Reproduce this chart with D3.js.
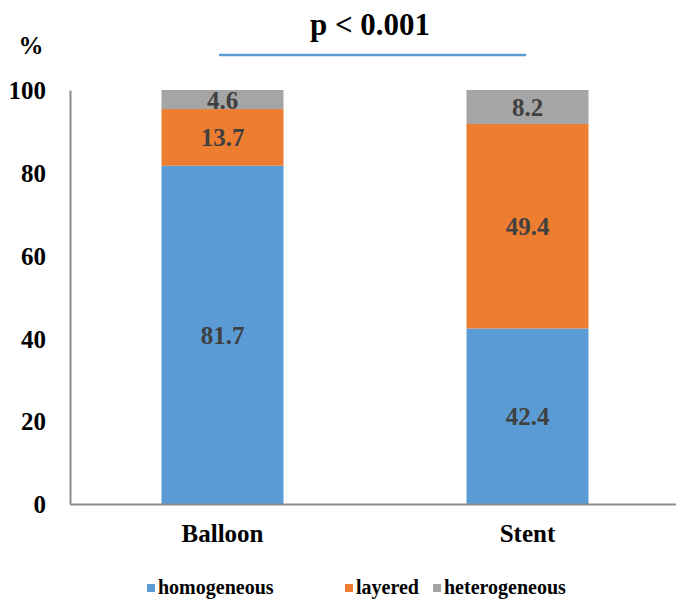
<!DOCTYPE html>
<html><head><meta charset="utf-8">
<script src="https://cdn.jsdelivr.net/npm/d3@7"></script>
<style>
body{margin:0;background:#fff}
svg{display:block}
svg text{font-family:"Liberation Serif",serif !important;font-weight:bold !important}
</style>
</head><body>
<script>
const categories = ["Balloon", "Stent"];
const seriesNames = ["homogeneous", "layered", "heterogeneous"];
const homogeneous = [81.7, 42.4];
const layered = [13.7, 49.4];
const heterogeneous = [4.6, 8.2];
const yTicks = [0, 20, 40, 60, 80, 100];
const colors = ["#5b9bd5", "#ed7d31", "#a5a5a5"];
const title = "p < 0.001";
const FONT = "Liberation Serif";

const W = 676, H = 599;
const svg = d3.select("body").append("svg").attr("width", W).attr("height", H)
  .attr("font-family", FONT).attr("font-weight", "bold");
const x = d3.scaleBand().domain(categories).range([70, 680]).paddingInner(0.6).paddingOuter(0.3);
const y = d3.scaleLinear().domain([0, 100]).range([504, 90]);

const rows = categories.map((c, i) => ({cat: c, homogeneous: homogeneous[i], layered: layered[i], heterogeneous: heterogeneous[i]}));
const stack = d3.stack().keys(seriesNames)(rows);

stack.forEach((s, si) => {
  svg.append("g").selectAll("rect").data(s).join("rect")
    .attr("x", d => x(d.data.cat)).attr("width", x.bandwidth())
    .attr("y", d => y(d[1])).attr("height", d => y(d[0]) - y(d[1]))
    .attr("fill", colors[si]);
  svg.append("g").selectAll("text").data(s).join("text")
    .attr("x", d => x(d.data.cat) + x.bandwidth() / 2)
    .attr("y", d => (y(d[0]) + y(d[1])) / 2 + 9)
    .attr("text-anchor", "middle").attr("fill", "#404040")
    .text(d => (d[1] - d[0]).toFixed(1));
});

const yAxis = svg.append("g").attr("transform", "translate(70,0)")
  .call(d3.axisLeft(y).tickValues(yTicks).tickSize(0).tickPadding(24));
yAxis.attr("font-family", FONT).attr("font-size", null);
yAxis.select(".domain").attr("stroke", "#8c8c8c").attr("stroke-width", 2);
yAxis.selectAll("text").attr("fill", "#000").attr("dy", "0.35em");

const xAxis = svg.append("g").attr("transform", "translate(0,504)")
  .call(d3.axisBottom(x).tickSize(0).tickPadding(20));
xAxis.attr("font-family", FONT).attr("font-size", null);
xAxis.select(".domain").attr("stroke", "#8c8c8c").attr("stroke-width", 2);
xAxis.selectAll("text").attr("fill", "#000");

svg.append("text").attr("x", 31).attr("y", 54).attr("text-anchor", "middle").text("%");
svg.append("text").attr("class", "title").attr("x", 370).attr("y", 35).attr("text-anchor", "middle").attr("fill", "#000").text(title);
svg.append("line").attr("x1", 219).attr("x2", 526).attr("y1", 55).attr("y2", 55).attr("stroke", "#5b9bd5").attr("stroke-width", 2.5);

const legX = [147, 345, 433];
const leg = svg.append("g").attr("class", "legend").selectAll("g").data(seriesNames).join("g")
  .attr("transform", (d, i) => `translate(${legX[i]},0)`);
leg.append("rect").attr("x", 0).attr("y", 584).attr("width", 8).attr("height", 8).attr("fill", (d, i) => colors[i]);
leg.append("text").attr("x", 11).attr("y", 594).attr("fill", "#000").text(d => d);

svg.selectAll("text").attr("font-family", FONT).style("font-family", FONT).style("font-weight", "bold").style("font-size", "25px");
svg.select("text.title").style("font-size", "31px");
svg.selectAll(".legend text").style("font-size", "20px");
</script>
</body></html>
